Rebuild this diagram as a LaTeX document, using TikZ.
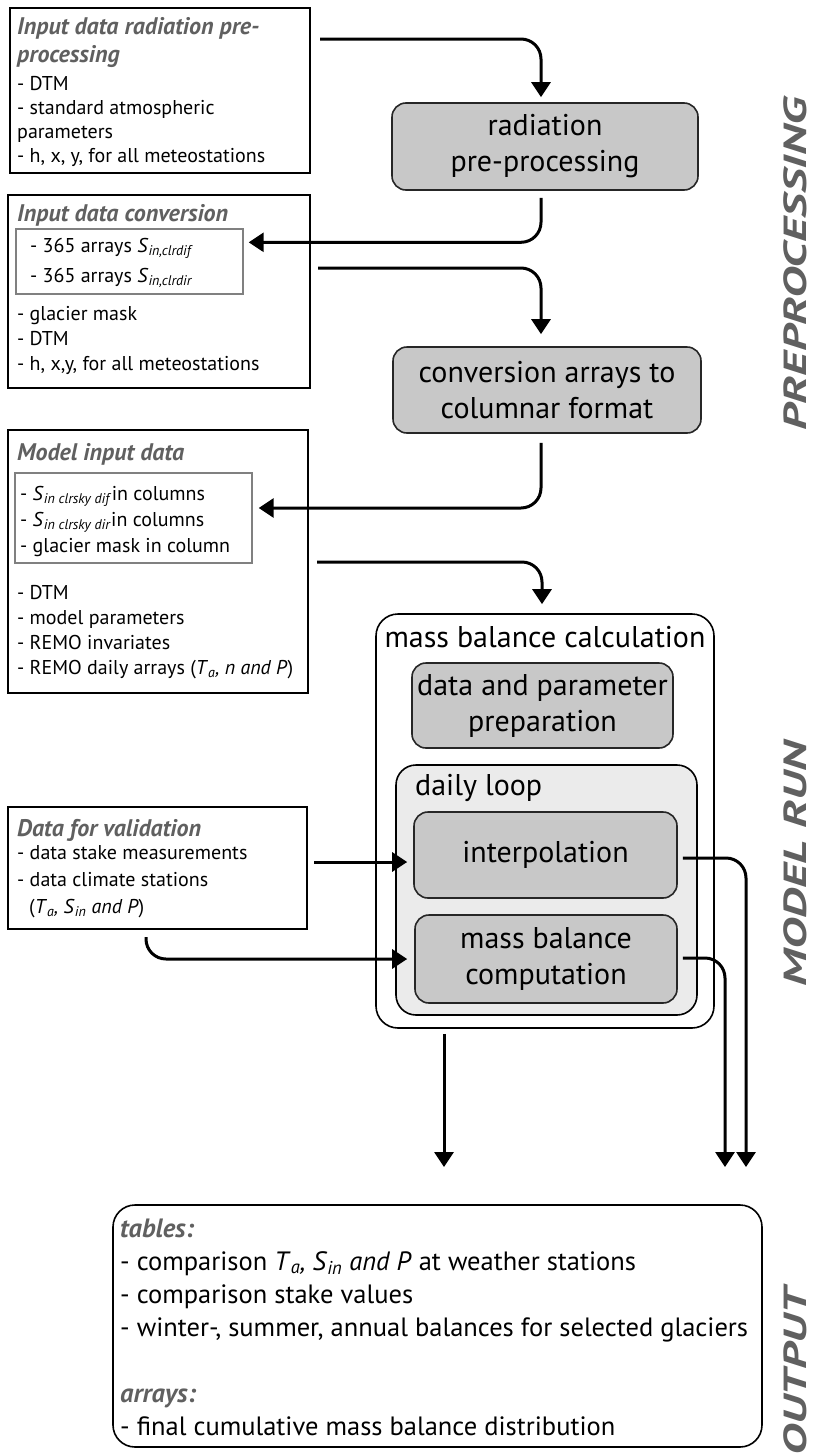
\documentclass[tikz,border=0pt]{standalone}
\usepackage{fontspec}
\setmainfont{PT Sans}
\usetikzlibrary{arrows.meta,calc}
\definecolor{boxgray}{HTML}{C8C8C8}
\definecolor{loopgray}{HTML}{EBEBEB}
\definecolor{headgray}{HTML}{606060}
\definecolor{innerline}{HTML}{808080}
\newcommand{\Ssub}[1]{\textit{S}\textsubscript{\textit{#1}}}
\newcommand{\Tsub}{\textit{T}\textsubscript{\textit{a}}}
\begin{document}
\begin{tikzpicture}[x=1pt,y=-1pt,
  leftbox/.style={draw=black,line width=1.6pt,inner sep=0pt},
  innerbox/.style={draw=innerline,line width=1.4pt,inner sep=0pt},
  procbox/.style={draw=black!85,line width=1.6pt,fill=boxgray,rounded corners=14pt,inner sep=0pt,align=center,font=\fontsize{30}{36}\selectfont},
  groupbox/.style={draw=black,line width=1.6pt,rounded corners=22pt,inner sep=0pt},
  head/.style={anchor=base west,inner sep=0pt,align=left,text=headgray,font=\fontsize{24}{28}\selectfont\bfseries\itshape},
  body/.style={anchor=base west,inner sep=0pt,align=left,font=\fontsize{20}{24}\selectfont},
  outbody/.style={anchor=base west,inner sep=0pt,align=left,font=\fontsize{26.5}{33}\selectfont},
  flow/.style={line width=3pt,-{Triangle[length=15pt,width=19pt]},rounded corners=20pt},
  side/.style={rotate=90,xscale=1.5,anchor=base,inner sep=0pt,text depth=0pt,text=headgray,font=\fontsize{32}{32}\selectfont\bfseries\itshape}]
\useasboundingbox (0,0) rectangle (812,1454);

% ---------- left input boxes (text nodes anchored at their last baseline) ----------
\node[leftbox,minimum width=300pt,minimum height=165pt] (in1) at (160,90.5) {};
\node[head] (in1h) at (17,62) {Input data radiation pre-\\processing};
\node[body] (in1b) at (17,162) {- DTM\\- standard atmospheric\\parameters\\- h, x, y, for all meteostations};

\node[leftbox,minimum width=302pt,minimum height=193pt] (in2) at (159,291.5) {};
\node[head] (in2h) at (17,221) {Input data conversion};
\node[innerbox,minimum width=227pt,minimum height=65pt] (in2i) at (129.5,261.5) {};
\node[body,font=\fontsize{20}{30}\selectfont] (in2ib) at (30,282) {- 365 arrays \Ssub{in,clrdif}\\- 365 arrays \Ssub{in,clrdir}};
\node[body,font=\fontsize{20}{25}\selectfont] (in2b) at (17,370) {- glacier mask\\- DTM\\- h, x,y, for all meteostations};

\node[leftbox,minimum width=300pt,minimum height=263pt] (in3) at (158,561.5) {};
\node[head] (in3h) at (17,460) {Model input data};
\node[innerbox,minimum width=237pt,minimum height=90pt] (in3i) at (133.5,518) {};
\node[body,font=\fontsize{20}{26}\selectfont] (in3ib) at (20,552) {- \Ssub{in clrsky dif}in columns\\- \Ssub{in clrsky dir}in columns\\- glacier mask in column};
\node[body,font=\fontsize{20}{25}\selectfont] (in3b) at (17,674) {- DTM\\- model parameters\\- REMO invariates\\- REMO daily arrays (\Tsub\textit{, n and P})};

\node[leftbox,minimum width=299pt,minimum height=122pt] (in4) at (157.5,868) {};
\node[head] (in4h) at (17,836) {Data for validation};
\node[body,font=\fontsize{20}{27}\selectfont] (in4b) at (17,913) {- data stake measurements\\- data climate stations\\\hspace*{12pt}(\Tsub\textit{, }\Ssub{in}\textit{ and P})};

% ---------- processing boxes ----------
\node[procbox,minimum width=306pt,minimum height=87pt] (rad) at (545,146.5) {radiation\\pre-processing};
\node[procbox,minimum width=308pt,minimum height=86pt] (conv) at (547,390) {conversion arrays to\\columnar format};

\node[groupbox,minimum width=338pt,minimum height=414pt] (mb) at (545,821) {};
\node[inner sep=0pt,font=\fontsize{30}{36}\selectfont] (mbl) at (545,637) {mass balance calculation};
\node[procbox,minimum width=261pt,minimum height=85pt] (prep) at (542.5,705.5) {data and parameter\\preparation};
\node[groupbox,fill=loopgray,rounded corners=20pt,minimum width=301pt,minimum height=250pt] (loop) at (546.5,890) {};
\node[anchor=west,inner sep=0pt,font=\fontsize{30}{36}\selectfont] (loopl) at (415,788) {daily loop};
\node[procbox,minimum width=263pt,minimum height=86pt] (interp) at (545.5,855) {interpolation};
\node[procbox,minimum width=262pt,minimum height=88pt] (comp) at (546,959) {mass balance\\computation};

% ---------- output box ----------
\node[groupbox,minimum width=649pt,minimum height=242pt] (out) at (437.5,1326) {};
\node[outbody] (outb) at (120,1435) {\textcolor{headgray}{\bfseries\itshape tables:}\\- comparison \Tsub\textit{, }\Ssub{in}\textit{ and P} at weather stations\\- comparison stake values\\- winter-, summer, annual balances for selected glaciers\\[33pt]\textcolor{headgray}{\bfseries\itshape arrays:}\\- final cumulative mass balance distribution};

% ---------- side labels ----------
\node[side] (lpre) at (806,264) {PREPROCESSING};
\node[side] (lrun) at (806,864) {MODEL RUN};
\node[side] (lout) at (806,1372) {OUTPUT};

% ---------- connectors ----------
\coordinate (s1) at (320,39);
\draw[flow,shorten >=5pt] (s1) -| ($(rad.north)+(-4,0)$);
\draw[flow,shorten <=7pt,shorten >=5pt] ($(rad.south)+(-4,0)$) |- ($(in2i.north east)+(0,14)$);
\coordinate (s3) at (318,268);
\draw[flow,shorten >=12pt] (s3) -| ($(conv.north)+(-6,0)$);
\draw[flow,shorten <=9pt,shorten >=6pt] ($(conv.south)+(-6,0)$) |- ($(in3i.east)+(0,-10)$);
\coordinate (s5) at (317,562);
\draw[flow,shorten >=9pt] (s5) -| ($(mb.north)+(-3,0)$);
\coordinate (s6) at (314,862);
\draw[flow,shorten >=6pt] (s6) -- (s6 -| interp.west);
\coordinate (s7) at (146,937);
\draw[flow,shorten >=7pt] (s7) |- (comp.west);
\coordinate (e8) at (444,1167);
\draw[flow,shorten <=5pt] (mb.south -| e8) -- (e8);
\coordinate (e9) at (746,1167);
\draw[flow,shorten <=5pt] ($(interp.east)+(0,3)$) -| (e9);
\coordinate (e10) at (725,1167);
\draw[flow,shorten <=5pt] ($(comp.east)+(0,-1)$) -| (e10);
\end{tikzpicture}
\end{document}
